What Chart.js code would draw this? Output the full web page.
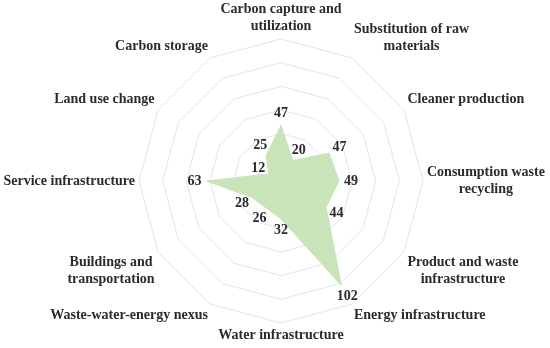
<!DOCTYPE html>
<html>
<head>
<meta charset="utf-8">
<script src="https://cdn.jsdelivr.net/npm/chart.js@4/dist/chart.umd.min.js"></script>
<style>
  body { margin: 0; background: #fff; }
  #wrap { width: 550px; height: 348px; }
</style>
</head>
<body>
<div id="wrap"><canvas id="myChart"></canvas></div>
<script>
// categories, clockwise from the top
const categories = [
  ['Carbon capture and', 'utilization'],
  ['Substitution of raw', 'materials'],
  'Cleaner production',
  ['Consumption waste', 'recycling'],
  ['Product and waste', 'infrastructure'],
  'Energy infrastructure',
  'Water infrastructure',
  'Waste-water-energy nexus',
  ['Buildings and', 'transportation'],
  'Service infrastructure',
  'Land use change',
  'Carbon storage'
];
const counts = [47, 20, 47, 49, 44, 102, 32, 26, 28, 63, 12, 25];
const scaleMax = 120;
const scaleStep = 20;

const serif = '"Liberation Serif", "Times New Roman", serif';
const textColor = '#2b2b2b';
const lineH = 16.8;

// category labels round the outer ring, each block's lines centred
const categoryLabels = {
  id: 'categoryLabels',
  afterDraw(chart) {
    const ctx = chart.ctx;
    const scale = chart.scales.r;
    ctx.save();
    ctx.font = 'bold 14px ' + serif;
    ctx.fillStyle = textColor;
    ctx.textAlign = 'center';
    ctx.textBaseline = 'middle';
    categories.forEach(function (cat, i) {
      var lines = [].concat(cat);
      var w = Math.max.apply(null, lines.map(function (l) { return ctx.measureText(l).width; }));
      var h = lines.length * lineH;
      var p = scale.getPointPosition(i, scale.drawingArea + 4);
      var deg = Math.round(scale.getIndexAngle(i) * 180 / Math.PI) % 360;
      var left;
      if (deg === 0 || deg === 180) left = p.x - w / 2;
      else if (deg < 180) left = p.x;
      else left = p.x - w;
      var top;
      if (deg === 90 || deg === 270) top = p.y - h / 2;
      else if (deg > 270 || deg < 90) top = p.y - h;
      else top = p.y;
      lines.forEach(function (line, j) {
        ctx.fillText(line, left + w / 2, top + lineH * (j + 0.5));
      });
    });
    ctx.restore();
  }
};

// draw the value next to each point, pushed a bit away from the centre
const valueLabels = {
  id: 'valueLabels',
  afterDatasetsDraw(chart) {
    const ctx = chart.ctx;
    const scale = chart.scales.r;
    const meta = chart.getDatasetMeta(0);
    ctx.save();
    ctx.font = 'bold 14px ' + serif;
    ctx.fillStyle = textColor;
    ctx.textAlign = 'center';
    ctx.textBaseline = 'middle';
    meta.data.forEach(function (pt, i) {
      var dx = pt.x - scale.xCenter;
      var dy = pt.y - scale.yCenter;
      var len = Math.sqrt(dx * dx + dy * dy) || 1;
      var off = 12;
      ctx.fillText(String(counts[i]), pt.x + dx / len * off, pt.y + dy / len * off);
    });
    ctx.restore();
  }
};

new Chart(document.getElementById('myChart'), {
  type: 'radar',
  data: {
    labels: categories,
    datasets: [{
      data: counts,
      backgroundColor: '#c8e4b8',
      borderColor: '#c8e4b8',
      borderWidth: 1,
      pointRadius: 0,
      fill: true
    }]
  },
  options: {
    responsive: true,
    maintainAspectRatio: false,
    animation: false,
    plugins: {
      legend: { display: false },
      tooltip: { enabled: false }
    },
    scales: {
      r: {
        min: 0,
        max: scaleMax,
        ticks: { display: false, stepSize: scaleStep },
        angleLines: { display: false },
        grid: { color: '#dde5f4', lineWidth: 1 },
        pointLabels: { display: false },
        // place the web like the original, off-centre to leave room for labels
        afterFit: function (scale) {
          scale.xCenter = 281;
          scale.yCenter = 181;
          scale.drawingArea = 142;
        }
      }
    }
  },
  plugins: [valueLabels, categoryLabels]
});
</script>
</body>
</html>
